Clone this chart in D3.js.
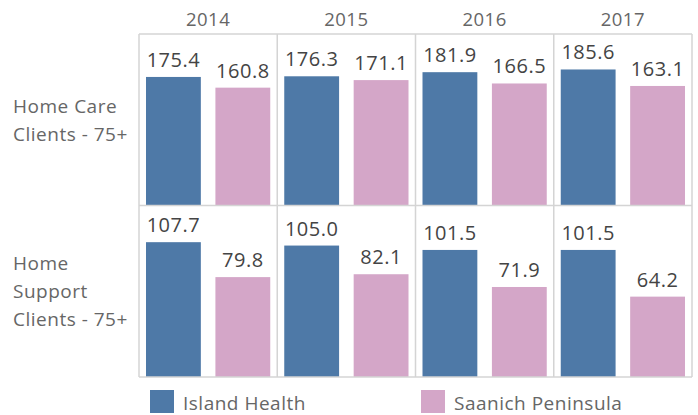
<!DOCTYPE html>
<meta charset="utf-8">
<script src="https://d3js.org/d3.v7.min.js"></script>
<style>
  body { margin: 0; background: #fff; }
  text { font-family: "Open Sans", Lato, sans-serif; letter-spacing: 0.5px; }
</style>
<svg width="698" height="415"></svg>
<script>

  // data
  var years = ["2014", "2015", "2016", "2017"];
  var series = ["Island Health", "Saanich Peninsula"];
  var rows = ["Home Care Clients - 75+", "Home Support Clients - 75+"];
  var rowLines = [["Home Care", "Clients - 75+"], ["Home", "Support", "Clients - 75+"]];
  var homeCare = [[175.4, 160.8], [176.3, 171.1], [181.9, 166.5], [185.6, 163.1]];
  var homeSupport = [[107.7, 79.8], [105.0, 82.1], [101.5, 71.9], [101.5, 64.2]];
  var rowMax = [234, 137];

  var colors = ["#4e79a7", "#d4a6c8"];

  var svg = d3.select("svg");
  var gridLeft = 139, gridRight = 692, gridTop = 34, gridBottom = 377;

  var x = d3.scaleBand().domain(years).range([gridLeft, gridRight]);
  var inner = d3.scaleBand().domain(series).range([7, x.bandwidth() - 7]).paddingInner(0.21);
  var rowBand = d3.scaleBand().domain(rows).range([gridTop, gridBottom]);

  var values = [homeCare, homeSupport];

  rows.forEach(function (r, ri) {
    var y0 = rowBand(r), y1 = y0 + rowBand.bandwidth();
    var y = d3.scaleLinear().domain([0, rowMax[ri]]).range([y1, y0]);

    var g = svg.append("g");
    years.forEach(function (yr, yi) {
      values[ri][yi].forEach(function (v, si) {
        var bx = x(yr) + inner(series[si]);
        g.append("rect")
          .attr("x", bx)
          .attr("y", y(v))
          .attr("width", inner.bandwidth())
          .attr("height", y1 - y(v))
          .attr("fill", colors[si]);
        g.append("text")
          .attr("x", bx + inner.bandwidth() / 2)
          .attr("y", y(v) - 10)
          .attr("text-anchor", "middle")
          .style("font-size", "20px")
          .attr("fill", "#444")
          .text(v.toFixed(1));
      });
    });

    // row label
    var lines = rowLines[ri];
    var mid = (y0 + y1) / 2;
    svg.append("text")
      .attr("x", 13)
      .attr("y", mid - (lines.length - 1) * 14 + 7)
      .style("font-size", "19px")
      .attr("fill", "#666")
      .selectAll("tspan")
      .data(lines)
      .enter()
      .append("tspan")
      .attr("x", 13)
      .attr("dy", function (d, i) { return i ? 28 : 0; })
      .text(function (d) { return d; });
  });

  // grid lines
  var grid = svg.append("g").attr("stroke", "#d4d4d4").attr("stroke-width", 1.5);
  years.concat(["end"]).forEach(function (yr, i) {
    var xx = i < years.length ? x(yr) : gridRight;
    grid.append("line").attr("x1", xx).attr("x2", xx).attr("y1", gridTop).attr("y2", gridBottom);
  });
  [gridTop, rowBand(rows[1]), gridBottom].forEach(function (yy) {
    grid.append("line").attr("x1", gridLeft).attr("x2", gridRight).attr("y1", yy).attr("y2", yy);
  });

  // year headers
  svg.selectAll(".year")
    .data(years)
    .enter()
    .append("text")
    .attr("x", function (d) { return x(d) + x.bandwidth() / 2; })
    .attr("y", 26)
    .attr("text-anchor", "middle")
    .style("font-size", "18.5px")
    .attr("fill", "#666")
    .text(function (d) { return d; });

  // legend
  var legendX = [150, 421];
  series.forEach(function (s, i) {
    svg.append("rect")
      .attr("x", legendX[i]).attr("y", 390)
      .attr("width", 24).attr("height", 23)
      .attr("fill", colors[i]);
    svg.append("text")
      .attr("x", legendX[i] + 33).attr("y", 410)
      .style("font-size", "19px")
      .attr("fill", "#666")
      .text(s);
  });

</script>
